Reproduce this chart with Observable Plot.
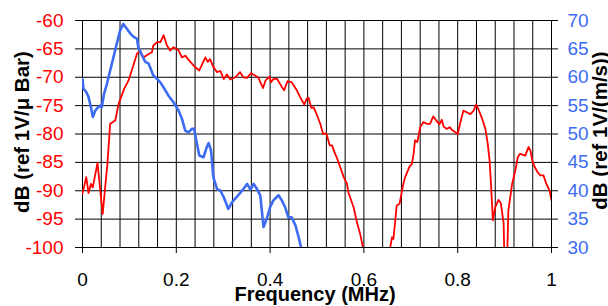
<!DOCTYPE html>
<html>
<head>
<meta charset="utf-8">
<script src="https://cdn.jsdelivr.net/npm/d3@7"></script>
<script src="https://cdn.jsdelivr.net/npm/@observablehq/plot@0.6"></script>
<style>
  html, body { margin: 0; padding: 0; background: #fff; }
</style>
</head>
<body>
<div id="chart"></div>
<script>
// Red series: microphone response, dB (ref 1V/µBar), left axis
const redFreq = [0.000,0.008,0.013,0.018,0.022,0.032,0.043,0.053,0.059,0.070,0.077,0.089,0.098,0.105,0.116,0.123,0.130,0.141,0.148,0.151,0.159,0.166,0.173,0.180,0.187,0.194,0.205,0.212,0.219,0.230,0.240,0.249,0.262,0.267,0.272,0.279,0.287,0.294,0.301,0.308,0.315,0.326,0.336,0.343,0.351,0.359,0.368,0.375,0.385,0.390,0.399,0.402,0.407,0.415,0.425,0.430,0.437,0.446,0.457,0.464,0.473,0.478,0.482,0.488,0.493,0.500,0.507,0.513,0.520,0.527,0.532,0.539,0.542,0.557,0.564,0.567,0.578,0.585,0.592,0.598,0.610,0.630,0.650,0.656,0.660,0.663,0.670,0.676,0.684,0.688,0.697,0.702,0.706,0.709,0.714,0.720,0.727,0.734,0.741,0.748,0.754,0.761,0.766,0.770,0.777,0.783,0.788,0.795,0.800,0.805,0.812,0.820,0.827,0.834,0.839,0.844,0.852,0.859,0.864,0.868,0.871,0.875,0.880,0.887,0.892,0.898,0.899,0.902,0.906,0.908,0.916,0.923,0.928,0.933,0.944,0.951,0.955,0.959,0.963,0.970,0.976,0.983,0.989,0.996,1.000];
const redDb = [-90.5,-87.6,-90.4,-88.8,-89.4,-85.1,-94.1,-85.3,-78.2,-77.6,-74.7,-72.0,-70.6,-68.8,-65.9,-65.3,-66.5,-65.9,-65.6,-64.4,-63.8,-63.8,-62.6,-64.4,-65.3,-64.7,-65.3,-66.5,-66.2,-67.3,-68.2,-68.8,-66.5,-67.3,-66.8,-68.2,-69.1,-68.9,-70.3,-69.5,-70.4,-70.0,-69.1,-70.0,-70.1,-69.3,-69.7,-70.1,-71.9,-70.6,-69.9,-70.9,-70.3,-70.3,-71.7,-72.3,-70.7,-70.9,-72.3,-73.5,-74.8,-73.8,-73.6,-75.4,-75.3,-76.7,-78.2,-80.0,-79.9,-82.0,-82.0,-83.6,-84.1,-87.6,-88.8,-90.3,-92.9,-95.5,-97.6,-100.0,-103,-105,-103,-100.0,-98.2,-98.5,-92.6,-92.3,-88.8,-87.6,-85.8,-85.3,-83.5,-81.1,-81.4,-78.8,-77.9,-78.2,-78.2,-76.9,-77.6,-78.3,-77.5,-78.7,-79.1,-78.8,-79.3,-79.7,-80.0,-78.2,-75.9,-76.2,-76.5,-75.9,-74.8,-75.6,-77.3,-79.1,-81.7,-84.7,-88.8,-95.2,-92.9,-91.6,-92.2,-95.8,-100.0,-104,-100.0,-93.5,-88.8,-86.4,-84.1,-83.5,-83.8,-82.3,-82.9,-84.7,-85.6,-86.7,-87.3,-87.3,-88.8,-90.0,-91.7];

// Blue series: accelerometer response, dB (ref 1V/(m/s)), right axis
const blueFreq = [0.000,0.002,0.008,0.013,0.018,0.022,0.027,0.033,0.038,0.041,0.046,0.052,0.059,0.066,0.073,0.080,0.087,0.095,0.102,0.109,0.116,0.119,0.127,0.134,0.141,0.151,0.159,0.166,0.173,0.183,0.194,0.205,0.212,0.219,0.226,0.233,0.238,0.244,0.249,0.258,0.265,0.269,0.274,0.279,0.287,0.294,0.301,0.311,0.319,0.329,0.343,0.351,0.358,0.365,0.372,0.379,0.386,0.393,0.400,0.407,0.418,0.425,0.432,0.439,0.446,0.454,0.461,0.466,0.470];
const blueVal = [59.7,58.0,57.4,56.5,54.7,53.0,54.1,54.7,55.0,54.7,57.1,58.8,61.2,63.5,65.9,68.2,69.4,68.5,67.7,67.1,66.8,65.3,63.8,62.7,62.4,60.3,59.7,59.1,58.2,56.8,55.6,54.1,52.7,50.6,50.3,50.9,50.9,48.3,46.2,45.9,47.7,48.4,47.1,42.4,40.3,40.0,38.9,36.8,38.0,38.9,40.3,41.2,40.2,41.2,40.3,39.2,33.6,35.1,37.1,38.3,39.2,38.3,37.1,35.3,35.3,33.9,31.8,30.0,29.0];

// Axis ticks
const xTicks = [0, 0.2, 0.4, 0.6, 0.8, 1];
const xGrid = [0,0.04,0.08,0.12,0.16,0.2,0.24,0.28,0.32,0.36,0.4,0.44,0.48,0.52,0.56,0.6,0.64,0.68,0.72,0.76,0.8,0.84,0.88,0.92,0.96,1];
const leftTicks = [-100, -95, -90, -85, -80, -75, -70, -65, -60];
const rightTicks = [30, 35, 40, 45, 50, 55, 60, 65, 70];
const rightOffset = 130; // right value = left value + 130

const red = redFreq.map((f, i) => ({f, v: redDb[i]}));
const blue = blueFreq.map((f, i) => ({f, v: blueVal[i]}));

const RED = "#ff0000";
const BLUE = "#3d6cf2";

const chart = Plot.plot({
  width: 608,
  height: 306,
  marginLeft: 82,
  marginRight: 57,
  marginTop: 20,
  marginBottom: 59,
  x: {domain: [0, 1]},
  y: {domain: [-100, -60]},
  style: {fontFamily: "'Liberation Sans', Arial, sans-serif", background: "white", overflow: "visible"},
  marks: [
    Plot.gridX(xGrid, {stroke: "#000", strokeOpacity: 1, strokeWidth: 1}),
    Plot.gridY(leftTicks, {stroke: "#000", strokeOpacity: 1, strokeWidth: 1}),
    Plot.axisX(xTicks, {tickSize: 6, tickPadding: 19, fontSize: 19, fill: "#000", stroke: "#000", tickFormat: d => String(d), label: null}),
    Plot.axisY(leftTicks, {anchor: "left", tickSize: 7, tickPadding: 12, fontSize: 19, fill: RED, stroke: "#000", tickFormat: d => String(d), label: null}),
    Plot.axisY(rightTicks.map(v => v - rightOffset), {anchor: "right", tickSize: 6, tickPadding: 10, fontSize: 19, fill: BLUE, stroke: "#000", tickFormat: d => String(Math.round(d + rightOffset)), label: null}),
    Plot.line(red, {x: "f", y: "v", stroke: RED, strokeWidth: 1.8, clip: true}),
    Plot.line(blue, {x: "f", y: d => d.v - rightOffset, stroke: BLUE, strokeWidth: 2.6, clip: true}),
    Plot.text([0], {frameAnchor: "left", dx: -68, dy: -2, rotate: -90, lineAnchor: "top", textAnchor: "middle", text: () => "dB (ref 1V/μ Bar)", fontWeight: "bold", fontSize: 20.5, fill: "#000"}),
    Plot.text([0], {frameAnchor: "right", dx: 41, dy: -3.5, rotate: -90, lineAnchor: "top", textAnchor: "middle", text: () => "dB (ref 1V/(m/s))", fontWeight: "bold", fontSize: 20.5, fill: "#000"}),
    Plot.text([0], {frameAnchor: "bottom", dx: -2, dy: 53, lineAnchor: "bottom", textAnchor: "middle", text: () => "Frequency (MHz)", fontWeight: "bold", fontSize: 20, fill: "#000"})
  ]
});
document.getElementById("chart").appendChild(chart);
</script>
</body>
</html>
